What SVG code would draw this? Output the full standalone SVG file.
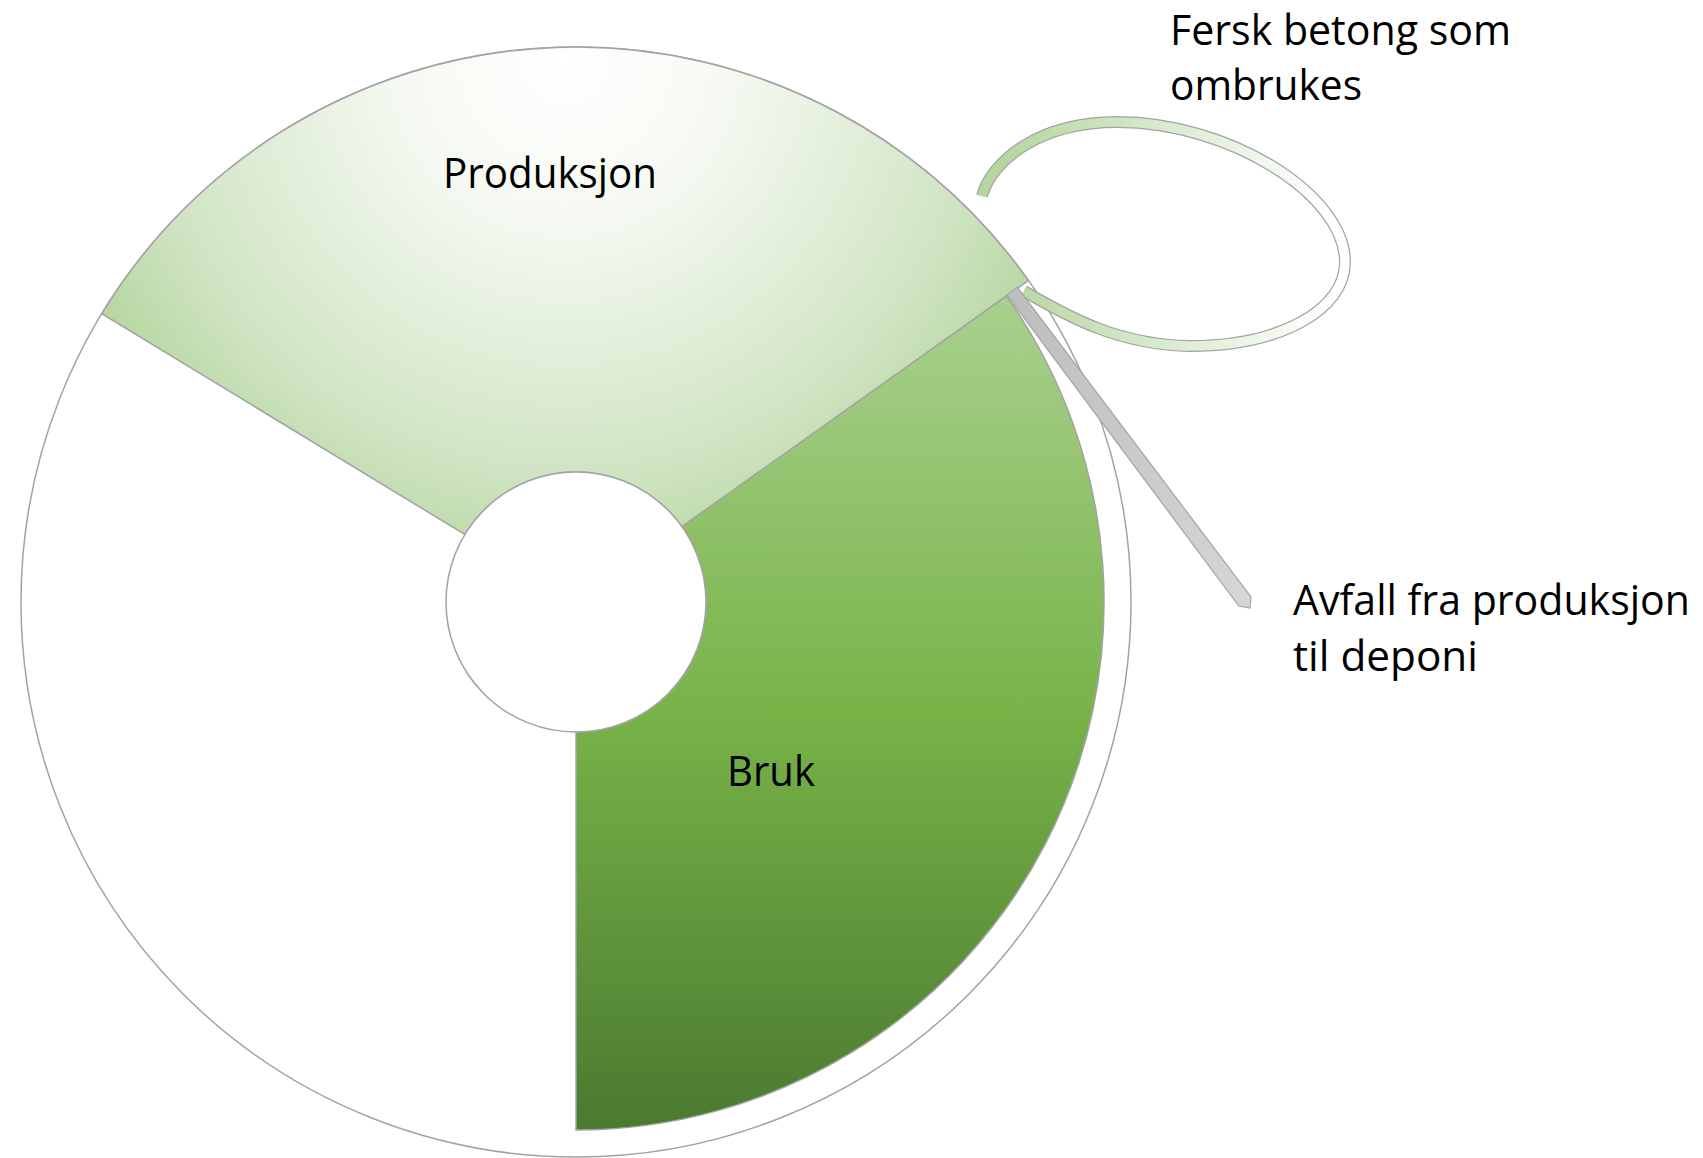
<svg xmlns="http://www.w3.org/2000/svg" width="1703" height="1158" viewBox="0 0 1703 1158">
<style>
.lbl{font-family:"Open Sans","Noto Sans","Liberation Sans",sans-serif;font-size:42px;fill:#000}
.edge{stroke:#a3a3a3;stroke-width:1.5}
</style>
<defs>
<radialGradient id="gProd" gradientUnits="userSpaceOnUse" cx="565" cy="60" r="545">
<stop offset="0" stop-color="#ffffff"/>
<stop offset="0.3" stop-color="#f5f9f2"/>
<stop offset="0.75" stop-color="#d1e5c4"/>
<stop offset="1" stop-color="#b3d49c"/>
</radialGradient>
<linearGradient id="gBruk" gradientUnits="userSpaceOnUse" x1="0" y1="296" x2="0" y2="1130">
<stop offset="0" stop-color="#a9d18e"/>
<stop offset="0.5" stop-color="#78b348"/>
<stop offset="1" stop-color="#4a7a30"/>
</linearGradient>
<linearGradient id="gLoop" gradientUnits="userSpaceOnUse" x1="1000" y1="0" x2="1330" y2="0">
<stop offset="0" stop-color="#b5d69e"/>
<stop offset="0.45" stop-color="#d6e8cb"/>
<stop offset="1" stop-color="#ffffff"/>
</linearGradient>
<linearGradient id="gGray" x1="0" y1="0" x2="1" y2="0">
<stop offset="0" stop-color="#bdbdbd"/>
<stop offset="1" stop-color="#d6d6d6"/>
</linearGradient>
</defs>
<g id="ring">
<circle cx="576" cy="602" r="555" fill="#ffffff" class="edge"/>
</g>
<g id="produksjon">
<path d="M 101.8 313.7 A 555 555 0 0 1 1028.4 280.5 L 682 526.7 A 130 130 0 0 0 464.9 534.5 Z" fill="url(#gProd)" class="edge"/>
<text class="lbl" x="443" y="188" textLength="214" lengthAdjust="spacingAndGlyphs">Produksjon</text>
</g>
<g id="bruk">
<path d="M 1006.4 296.1 A 528 528 0 0 1 576 1130 L 576 732 A 130 130 0 0 0 682 526.7 Z" fill="url(#gBruk)" class="edge"/>
<text class="lbl" x="727" y="786" textLength="88" lengthAdjust="spacingAndGlyphs">Bruk</text>
</g>
<g id="hole">
<circle cx="576" cy="602" r="130" fill="#ffffff" class="edge"/>
</g>
<g id="connectors">
<g id="loop">
<path d="M 1024 291 C 1070 318 1120 345 1190 346 C 1280 346 1345 310 1345 262 C 1345 195 1230 122 1117 122 C 1040 122 992 160 982 196" fill="none" stroke="#a3a3a3" stroke-width="12"/>
<path d="M 1024 291 C 1070 318 1120 345 1190 346 C 1280 346 1345 310 1345 262 C 1345 195 1230 122 1117 122 C 1040 122 992 160 982 196" fill="none" stroke="url(#gLoop)" stroke-width="9.5"/>
</g>
<g id="waste">
<polygon points="1006.8,294.9 1017.2,287.1 1251,597 1250,608 1238.8,606" fill="url(#gGray)" stroke="#a3a3a3" stroke-width="1.2"/>
</g>
</g>
<g id="labels">
<text class="lbl" x="1170" y="45" textLength="341" lengthAdjust="spacingAndGlyphs">Fersk betong som</text>
<text class="lbl" x="1170" y="100" textLength="192" lengthAdjust="spacingAndGlyphs">ombrukes</text>
<text class="lbl" x="1293" y="615" textLength="397" lengthAdjust="spacingAndGlyphs">Avfall fra produksjon</text>
<text class="lbl" x="1293" y="671" textLength="185" lengthAdjust="spacingAndGlyphs">til deponi</text>
</g>
</svg>
